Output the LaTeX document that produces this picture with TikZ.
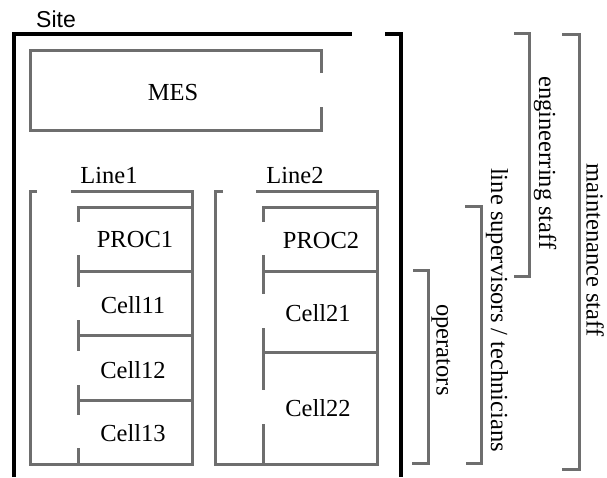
\documentclass[tikz,border=0pt]{standalone}
\usepackage{fontspec}
\setmainfont{Liberation Serif}
\newfontfamily\sitefont{Liberation Sans}
\definecolor{boxgray}{HTML}{6E6E6E}
\begin{document}
\begin{tikzpicture}[x=1pt,y=-1pt,
  gl/.style={draw=boxgray,line width=3pt},
  bl/.style={draw=black,line width=4.5pt},
  lbl/.style={font=\fontsize{24.5}{28}\selectfont,inner sep=0pt},
  rlbl/.style={lbl,rotate=-90}]
\useasboundingbox (0,0) rectangle (607,477);
% Site frame
\draw[bl] (14,477) -- (14,34) -- (352,34);
\draw[bl] (385,34) -- (401,34) -- (401,477);
\node[lbl,font=\sitefont\fontsize{23}{26}\selectfont] (site) at (56,19) {Site};
% MES
\draw[gl] (321,73) -- (321,50) -- (30,50) -- (30,130) -- (321,130) -- (321,107);
\node[lbl] (mes) at (173,93) {MES};
% Line1
\draw[gl] (37,191) -- (30,191) -- (30,464) -- (192,464) -- (192,191) -- (71,191);
\draw[gl] (78,222) -- (78,207) -- (192,207);
\draw[gl] (78,255) -- (78,287); \draw[gl] (78,271) -- (192,271);
\draw[gl] (78,320) -- (78,351); \draw[gl] (78,335) -- (192,335);
\draw[gl] (78,385) -- (78,415); \draw[gl] (78,400) -- (192,400);
\draw[gl] (78,448) -- (78,464);
\node[lbl] (line1) at (109,176) {Line1};
\node[lbl] (proc1) at (135,240) {PROC1};
\node[lbl] (c11) at (133,305) {Cell11};
\node[lbl] (c12) at (133,370) {Cell12};
\node[lbl] (c13) at (133,433) {Cell13};
% Line2
\draw[gl] (223,191) -- (215,191) -- (215,464) -- (377,464) -- (377,191) -- (256,191);
\draw[gl] (263,222) -- (263,207) -- (377,207);
\draw[gl] (263,255) -- (263,294); \draw[gl] (263,271) -- (377,271);
\draw[gl] (263,328) -- (263,390); \draw[gl] (263,352) -- (377,352);
\draw[gl] (263,424) -- (263,464);
\node[lbl] (line2) at (295,176) {Line2};
\node[lbl] (proc2) at (321,241) {PROC2};
\node[lbl] (c21) at (318,313) {Cell21};
\node[lbl] (c22) at (318,408) {Cell22};
% Brackets
\draw[gl] (514,33) -- (529,33) -- (529,276) -- (514,276);
\draw[gl] (562,34) -- (579,34) -- (579,469) -- (562,469);
\draw[gl] (465,206) -- (481,206) -- (481,463) -- (466,463);
\draw[gl] (413,270) -- (428,270) -- (428,463) -- (412,463);
\node[rlbl] (eng) at (545,163) {engineerring staff};
\node[rlbl] (maint) at (595,250) {maintenance staff};
\node[rlbl] (sup) at (497,310) {line supervisors / technicians};
\node[rlbl] (ops) at (441,350) {operators};
\end{tikzpicture}
\end{document}
